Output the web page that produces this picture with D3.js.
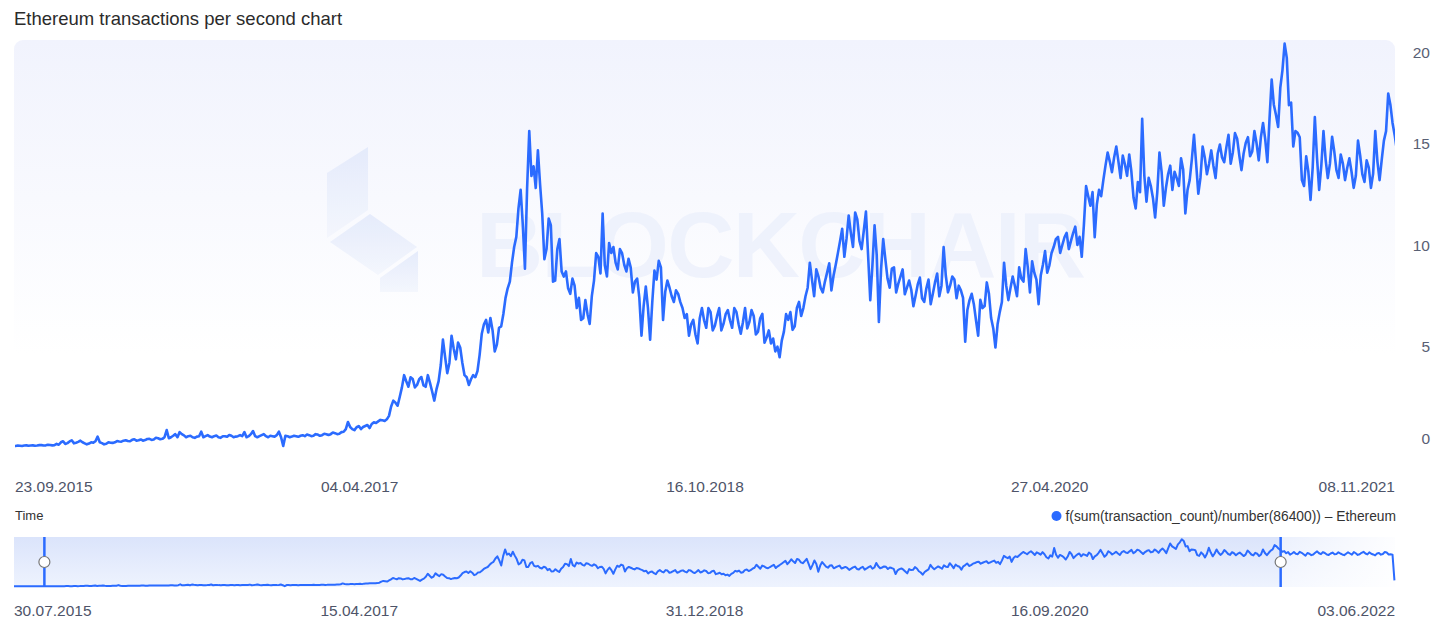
<!DOCTYPE html>
<html><head><meta charset="utf-8">
<script src="https://cdn.jsdelivr.net/npm/d3@7"></script>
<style>
html,body{margin:0;padding:0;background:#fff;}
svg{display:block;font-family:"Liberation Sans",Arial,Helvetica,sans-serif;}
</style></head><body>
<svg id="chart" width="1440" height="633"></svg>
<script>
// ---- data: weekly samples (Thursdays from 30.07.2015) + mid-week samples (3.5 days later) ----
const startDate = "2015-07-30";
const stepDays = 7;
const midOffsetHours = 84;
const tps2015 = [0.10,0.11,0.11,0.12,0.12,0.13,0.13,0.14,0.12,0.13,0.14,0.13,0.15,0.14,0.16,0.15,0.17,0.16,0.18,0.35,0.26,0.4,0.28];
const tps2016 = [0.38,0.25,0.24,0.28,0.58,0.26,0.23,0.28,0.3,0.34,0.38,0.36,0.42,0.38,0.44,0.41,0.47,0.44,0.5,0.47,0.9,0.55,0.7,0.8,0.64,0.6,0.55,0.58,0.82,0.6,0.58,0.6,0.55,0.6,0.57,0.62,0.58,0.65,0.8,0.6,0.85,0.55,0.65,0.6,0.62,0.58,0.82,0.12,0.6,0.58,0.6,0.62];
const tps2017 = [0.6,0.65,0.62,0.68,0.65,0.7,0.7,0.75,0.72,0.82,1.3,0.95,1.04,0.95,1.1,1.0,1.28,1.33,1.38,1.43,2.06,2.25,2.54,3.6,3.03,3.41,3.12,3.51,3.03,3.22,2.35,3.31,5.35,3.7,5.54,4.38,4.96,3.6,3.12,3.6,3.8,5.64,6.32,6.41,4.77,5.93,6.61,7.87,9.13,10.4,12.71,8.84];
const tps2018 = [15.6,13.87,14.65,11.55,9.8,10.97,8.25,10.29,8.45,7.87,8.35,6.9,6.32,7.29,6.12,8.25,9.42,11.55,8.45,9.61,9.13,9.8,9.03,9.32,7.67,8.35,5.54,7.96,5.35,8.74,9.22,6.32,8.25,7.48,7.77,7.19,6.41,5.54,6.32,5.16,6.9,5.93,6.7,6.03,6.9,6.12,6.8,5.93,6.7,5.64,6.9,6.22];
const tps2019 = [6.51,5.74,6.61,5.45,5.16,4.77,4.48,5.74,6.32,5.83,6.9,6.51,7.48,9.13,7.48,8.45,7.67,8.64,7.77,9.03,10.19,9.42,11.45,9.9,11.26,9.8,11.64,7.29,10.97,6.22,10.29,8.35,8.84,7.67,8.45,7.58,8.25,6.99,8.06,7.38,7.87,7.09,8.16,7.48,9.9,7.67,8.45,7.38,7.77,5.25,7.29,7.09];
const tps2020 = [5.54,6.9,8.16,6.41,4.96,6.7,9.13,7.29,8.45,7.48,8.35,9.8,7.67,8.64,7.09,9.03,8.64,9.61,10.29,9.61,10.38,9.8,10.58,10.0,9.42,12.9,11.93,10.38,12.71,13.19,14.55,13.58,14.84,13.29,13.97,14.45,12.32,13.1,16.2,12.13,12.9,11.35,14.55,11.93,13.48,12.71,13.29,14.26,11.55,13.19,15.42,12.52,14.84];
const tps2021 = [13.48,14.65,13.29,14.94,14.07,15.42,14.55,15.23,13.68,15.03,14.36,15.6,14.16,16.0,14.07,18.13,16.39,17.74,19.9,16.87,14.84,15.52,13.19,14.36,12.22,16.29,12.71,15.6,13.29,15.32,13.68,14.45,13.19,14.26,12.81,15.13,13.48,14.16,12.81,15.6,13.19,15.13,17.45,16.0,14.65,14.0,13.4,14.5,13.6,14.2,13.0,13.8];
const tps2022 = [13.5,14.8,13.6,14.1,13.3,14.3,13.7,13.9,13.2,14.4,13.4,14.0,13.6,14.6,13.5,13.8,13.1,14.1,13.7,14.3,13.6,2.6];

const mid2015 = [0.1,0.12,0.11,0.13,0.12,0.14,0.13,0.12,0.14,0.12,0.15,0.14,0.13,0.16,0.14,0.18,0.15,0.22,0.3,0.22,0.34,0.25,0.32];
const mid2016 = [0.3,0.2,0.3,0.35,0.3,0.2,0.3,0.27,0.36,0.33,0.4,0.35,0.45,0.4,0.38,0.46,0.42,0.52,0.45,0.55,0.5,0.62,0.55,0.7,0.55,0.62,0.52,0.6,0.55,0.65,0.55,0.63,0.52,0.6,0.66,0.55,0.6,0.6,0.55,0.7,0.6,0.6,0.7,0.55,0.6,0.65,0.55,0.62,0.55,0.62,0.57,0.65];
const mid2017 = [0.68,0.6,0.7,0.62,0.72,0.66,0.78,0.7,0.8,0.95,1.05,0.9,1.1,1.05,1.15,1.2,1.25,1.4,1.35,1.6,2.35,2.1,3.0,3.3,3.5,3.0,3.4,3.1,3.6,2.8,2.9,4.1,4.5,4.2,4.9,5.2,4.2,3.5,3.4,3.5,4.6,6.1,5.7,5.8,5.1,6.0,7.4,8.2,9.9,11.8,11.0,12.8];
const mid2018 = [13.4,12.8,13.0,9.3,11.3,8.2,9.8,8.7,8.7,7.6,8.0,7.4,6.4,6.6,7.5,9.6,8.6,9.0,10.1,9.9,8.8,9.6,8.7,8.9,8.2,7.4,7.0,6.9,7.2,8.3,8.9,7.7,7.9,7.2,7.6,6.9,6.6,6.1,5.6,6.4,6.3,6.9,5.8,6.5,5.8,6.6,6.3,6.9,6.1,6.2,5.9,6.8];
const mid2019 = [5.6,6.4,5.2,5.8,5.4,5.0,5.3,6.6,6.7,6.0,7.2,6.9,7.9,8.3,8.8,7.9,8.2,9.1,8.5,9.6,10.8,10.3,10.6,11.6,10.2,10.7,9.5,9.0,9.5,8.8,9.3,7.9,8.9,8.1,8.8,7.9,7.8,7.5,8.4,7.2,8.3,7.6,8.6,8.0,8.5,8.0,8.3,8.0,7.4,6.8,7.6,6.3];
const mid2020 = [7.3,7.0,7.6,5.9,6.1,7.2,8.0,7.9,8.0,8.9,8.2,8.9,9.2,8.3,8.5,9.7,9.0,9.9,10.4,10.0,10.6,10.2,10.9,10.4,11.0,12.4,12.6,12.0,12.4,13.9,14.1,14.3,14.1,14.4,13.4,13.6,11.8,12.6,13.4,13.3,12.3,12.6,13.6,12.8,13.9,13.6,12.9,13.7,12.7,14.2,14.0,13.3,14.3];
const mid2021 = [14.0,13.9,14.5,14.3,14.8,14.0,15.5,14.4,14.5,15.3,14.6,15.0,15.3,15.2,16.2,16.9,15.8,18.6,19.2,17.0,15.6,15.3,12.9,13.6,13.8,14.3,13.9,14.2,14.0,14.6,13.3,14.0,13.8,13.6,13.4,14.4,13.1,13.8,13.5,14.1,14.2,15.6,16.9,15.4,14.9,14.5,13.9,13.8,14.6,13.6,14.1,13.2];
const mid2022 = [14.2,14.0,14.5,13.5,13.9,13.6,14.4,13.5,13.8,13.9,14.5,13.3,14.2,13.9,14.4,13.5,13.9,13.4,14.5,13.5,13.4];

const mainTicks = ["23.09.2015","04.04.2017","16.10.2018","27.04.2020","08.11.2021"];
const navTicks = ["30.07.2015","15.04.2017","31.12.2018","16.09.2020","03.06.2022"];
const yTicks = [0,5,10,15,20];
const titleText = "Ethereum transactions per second chart";
const seriesName = "f(sum(transaction_count)/number(86400)) – Ethereum";
const axisTitle = "Time";
const watermark = "BLOCKCHAIR";

// ---- build ----
const parse = d3.timeParse("%d.%m.%Y");
const t0 = d3.timeParse("%Y-%m-%d")(startDate);
const weekly = [].concat(tps2015,tps2016,tps2017,tps2018,tps2019,tps2020,tps2021,tps2022);
const midweek = [].concat(mid2015,mid2016,mid2017,mid2018,mid2019,mid2020,mid2021,mid2022);
const data = [];
weekly.forEach((v,i)=>{
  const d = d3.timeDay.offset(t0,i*stepDays);
  data.push({date:d, v});
  if (i < midweek.length) data.push({date:d3.timeHour.offset(d,midOffsetHours), v:midweek[i]});
});

const svg = d3.select("#chart");
const blue = "#2b6bff";
const defs = svg.append("defs");

const bg = defs.append("linearGradient").attr("id","plotBg").attr("x1",0).attr("y1",0).attr("x2",0).attr("y2",1);
bg.append("stop").attr("offset","0%").attr("stop-color","#f1f3fd");
bg.append("stop").attr("offset","75%").attr("stop-color","#ffffff");

const navBg = defs.append("linearGradient").attr("id","navBg").attr("x1",0).attr("y1",0).attr("x2",0).attr("y2",1);
navBg.append("stop").attr("offset","0%").attr("stop-color","#dbe4fb");
navBg.append("stop").attr("offset","100%").attr("stop-color","#eef3fe");

const navOut = defs.append("linearGradient").attr("id","navOut").attr("x1",0).attr("y1",0).attr("x2",1).attr("y2",0);
navOut.append("stop").attr("offset","0%").attr("stop-color","#ffffff").attr("stop-opacity",0.45);
navOut.append("stop").attr("offset","100%").attr("stop-color","#ffffff").attr("stop-opacity",0.95);

const logoG = defs.append("linearGradient").attr("id","logoG").attr("x1",0).attr("y1",0).attr("x2",0).attr("y2",1);
logoG.append("stop").attr("offset","0%").attr("stop-color","#e2e9fb");
logoG.append("stop").attr("offset","100%").attr("stop-color","#f3f6fd");

const x = d3.scaleTime().domain([parse(mainTicks[0]), parse(mainTicks[mainTicks.length-1])]).range([15,1395]);
const y = d3.scaleLinear().domain([0,20]).range([448.4,41.6]);

defs.append("clipPath").attr("id","plotClip").append("rect")
  .attr("x",x.range()[0]).attr("y",20).attr("width",x.range()[1]-x.range()[0]).attr("height",440);

// plot background
svg.append("rect").attr("x",14).attr("y",40).attr("width",1381).attr("height",420)
  .attr("rx",9).attr("fill","url(#plotBg)");

// watermark logo
const wm = svg.append("g").attr("opacity",0.85);
const polys = [
  [[327,173],[368,147],[368,210],[327,238]],
  [[330,242],[370,214],[417,247],[378,275]],
  [[380,278],[418,251],[418,292],[380,292]]
];
wm.selectAll("polygon").data(polys).join("polygon")
  .attr("points",d=>d.map(p=>p.join(",")).join(" "))
  .attr("fill","url(#logoG)");
wm.append("text").attr("x",476).attr("y",277).attr("font-size",93).attr("font-weight","bold")
  .attr("fill","#edf1fc").attr("textLength",610).attr("lengthAdjust","spacing").text(watermark);

// title
svg.append("text").attr("x",14).attr("y",25).attr("font-size",18.5).attr("fill","#2b2b2b").text(titleText);

// main line
const line = d3.line().x(d=>x(d.date)).y(d=>y(d.v));
svg.append("path").datum(data).attr("clip-path","url(#plotClip)")
  .attr("d",line).attr("fill","none").attr("stroke",blue).attr("stroke-width",2.6)
  .attr("stroke-linejoin","round");

// y axis labels (right)
svg.append("g").selectAll("text").data(yTicks).join("text")
  .attr("x",1430).attr("y",d=>Math.min(Math.max(y(d),52.5),438.5))
  .attr("dy","0.36em").attr("text-anchor","end").attr("font-size",15.5).attr("fill","#596074")
  .text(d=>d);

// x axis labels
svg.append("g").selectAll("text").data(mainTicks).join("text")
  .attr("x",d=>x(parse(d))).attr("y",492)
  .attr("text-anchor",(d,i)=>i===0?"start":(i===mainTicks.length-1?"end":"middle"))
  .attr("font-size",15.5).attr("fill","#4e5469").text(d=>d);

// axis title
svg.append("text").attr("x",15).attr("y",520).attr("font-size",13).attr("fill","#333").text(axisTitle);

// legend
const lg = svg.append("g");
const legText = lg.append("text").attr("x",1396).attr("y",521).attr("text-anchor","end")
  .attr("font-size",13.8).attr("fill","#333").text(seriesName);
const lw = legText.node().getComputedTextLength();
lg.append("circle").attr("cx",1396-lw-9).attr("cy",516).attr("r",5).attr("fill",blue);

// navigator
const nx = d3.scaleTime().domain([parse(navTicks[0]), parse(navTicks[navTicks.length-1])]).range([14,1395]);
const ny = d3.scaleLinear().domain([0,20]).range([586.5,539]);
svg.append("rect").attr("x",14).attr("y",537).attr("width",1381).attr("height",50).attr("fill","url(#navBg)");
const hL = nx(x.domain()[0]), hR = nx(x.domain()[1]);
svg.append("rect").attr("x",hR).attr("y",537).attr("width",1395-hR).attr("height",50).attr("fill","url(#navOut)");
const nline = d3.line().x(d=>nx(d.date)).y(d=>ny(d.v));
svg.append("path").datum(data).attr("d",nline).attr("fill","none").attr("stroke",blue)
  .attr("stroke-width",2).attr("stroke-linejoin","round");
[hL,hR].forEach(h=>{
  svg.append("line").attr("x1",h).attr("x2",h).attr("y1",537).attr("y2",587)
    .attr("stroke",blue).attr("stroke-width",2.5);
  svg.append("circle").attr("cx",h).attr("cy",562).attr("r",5.5)
    .attr("fill","#fff").attr("stroke","#777").attr("stroke-width",1.2);
});
svg.append("g").selectAll("text").data(navTicks).join("text")
  .attr("x",d=>nx(parse(d))).attr("y",616)
  .attr("text-anchor",(d,i)=>i===0?"start":(i===navTicks.length-1?"end":"middle"))
  .attr("font-size",15.5).attr("fill","#4e5469").text(d=>d);
</script>
</body></html>
